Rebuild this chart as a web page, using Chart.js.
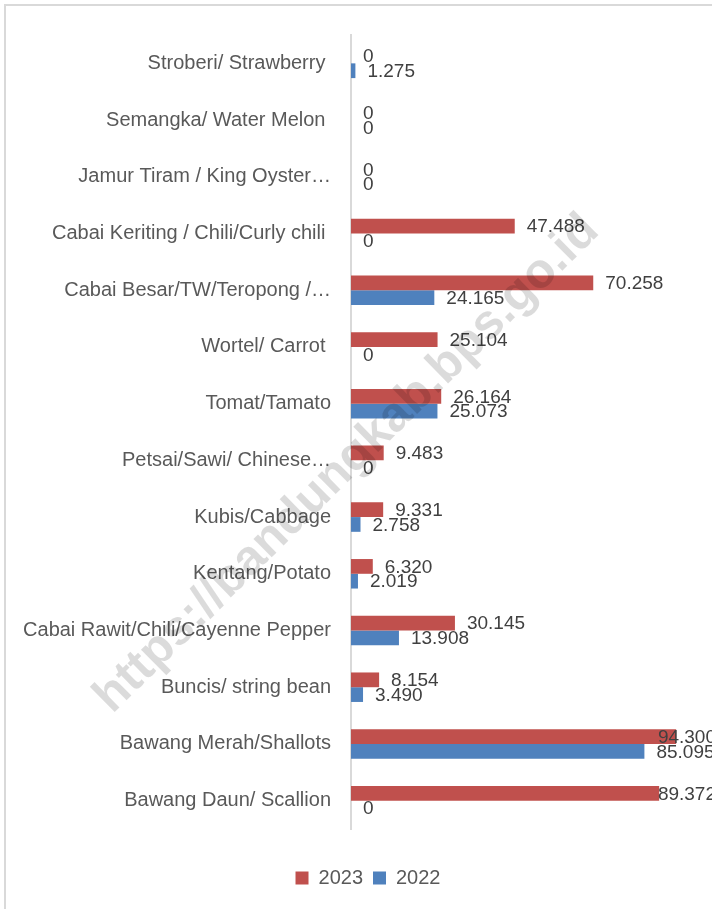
<!DOCTYPE html>
<html>
<head>
<meta charset="utf-8">
<script src="https://cdn.jsdelivr.net/npm/chart.js@4/dist/chart.umd.min.js"></script>
<style>
  html, body { margin: 0; padding: 0; background: #fff; }
  #wrap { width: 712px; height: 909px; }
</style>
</head>
<body>
<div id="wrap"><canvas id="mycanvas" width="712" height="909"></canvas></div>
<script>
// categories top to bottom
var categories = [
  'Stroberi/ Strawberry ',
  'Semangka/ Water Melon ',
  'Jamur Tiram / King Oyster…',
  'Cabai Keriting / Chili/Curly chili ',
  'Cabai Besar/TW/Teropong /…',
  'Wortel/ Carrot ',
  'Tomat/Tamato',
  'Petsai/Sawi/ Chinese…',
  'Kubis/Cabbage',
  'Kentang/Potato',
  'Cabai Rawit/Chili/Cayenne Pepper',
  'Buncis/ string bean',
  'Bawang Merah/Shallots',
  'Bawang Daun/ Scallion'
];
var values2023 = [0, 0, 0, 47488, 70258, 25104, 26164, 9483, 9331, 6320, 30145, 8154, 94300, 89372];
var values2022 = [1275, 0, 0, 0, 24165, 0, 25073, 0, 2758, 2019, 13908, 3490, 85095, 0];
var seriesNames = ['2023', '2022'];
var watermark = 'https://bandungkab.bps.go.id';

function fmt(v) {
  return String(v).replace(/\B(?=(\d{3})+(?!\d))/g, '.');
}

var framePlugin = {
  id: 'frame',
  beforeDraw: function(chart) {
    var c = chart.ctx;
    c.save();
    c.strokeStyle = '#d9d9d9';
    c.lineWidth = 2;
    c.beginPath();
    c.moveTo(5, 909);
    c.lineTo(5, 5);
    c.lineTo(712, 5);
    c.stroke();
    c.restore();
  }
};

var valueLabels = {
  id: 'valueLabels',
  afterDatasetsDraw: function(chart) {
    var c = chart.ctx;
    c.save();
    c.font = '19px "Liberation Sans", Arial, sans-serif';
    c.fillStyle = '#404040';
    c.textAlign = 'left';
    c.textBaseline = 'middle';
    chart.data.datasets.forEach(function(ds, di) {
      var meta = chart.getDatasetMeta(di);
      meta.data.forEach(function(bar, i) {
        var txt = fmt(ds.data[i]);
        var w = c.measureText(txt).width;
        var x = Math.min(bar.x + 12, 716 - w);
        c.fillText(txt, x, bar.y + 1);
      });
    });
    c.restore();
  }
};

var watermarkPlugin = {
  id: 'watermark',
  afterDraw: function(chart) {
    var c = chart.ctx;
    c.save();
    c.translate(347, 464);
    c.rotate(-44.6 * Math.PI / 180);
    c.font = 'bold 49px "Liberation Sans", Arial, sans-serif';
    c.fillStyle = 'rgba(0,0,0,0.14)';
    c.textAlign = 'center';
    c.textBaseline = 'middle';
    c.fillText(watermark, 0, 0);
    c.restore();
  }
};

var chartdata = {
  labels: categories,
  datasets: [
    {
      label: seriesNames[0],
      backgroundColor: '#C0504D',
      data: values2023
    },
    {
      label: seriesNames[1],
      backgroundColor: '#4F81BD',
      data: values2022
    }
  ]
};

var ctx = document.getElementById('mycanvas');
new Chart(ctx, {
  type: 'bar',
  data: chartdata,
  plugins: [framePlugin, valueLabels, watermarkPlugin],
  options: {
    indexAxis: 'y',
    responsive: false,
    devicePixelRatio: 1,
    animation: false,
    categoryPercentage: 0.52,
    barPercentage: 1,
    layout: { padding: { top: 35, left: 24, right: 0, bottom: 11 } },
    scales: {
      x: {
        min: 0,
        max: 104700,
        ticks: { display: false },
        grid: { display: false },
        border: { display: false },
        afterFit: function(scale) { scale.height = 29; }
      },
      y: {
        grid: { display: false, drawTicks: false },
        border: { display: true, color: '#d9d9d9', width: 2 },
        ticks: {
          padding: 20,
          color: '#595959',
          font: { family: '"Liberation Sans", Arial, sans-serif', size: 20 }
        },
        afterFit: function(scale) { scale.width = 327; }
      }
    },
    plugins: {
      tooltip: { enabled: false },
      legend: {
        position: 'bottom',
        labels: {
          boxWidth: 13,
          boxHeight: 13,
          padding: 10,
          color: '#595959',
          font: { family: '"Liberation Sans", Arial, sans-serif', size: 20 }
        }
      }
    }
  }
});
</script>
</body>
</html>
